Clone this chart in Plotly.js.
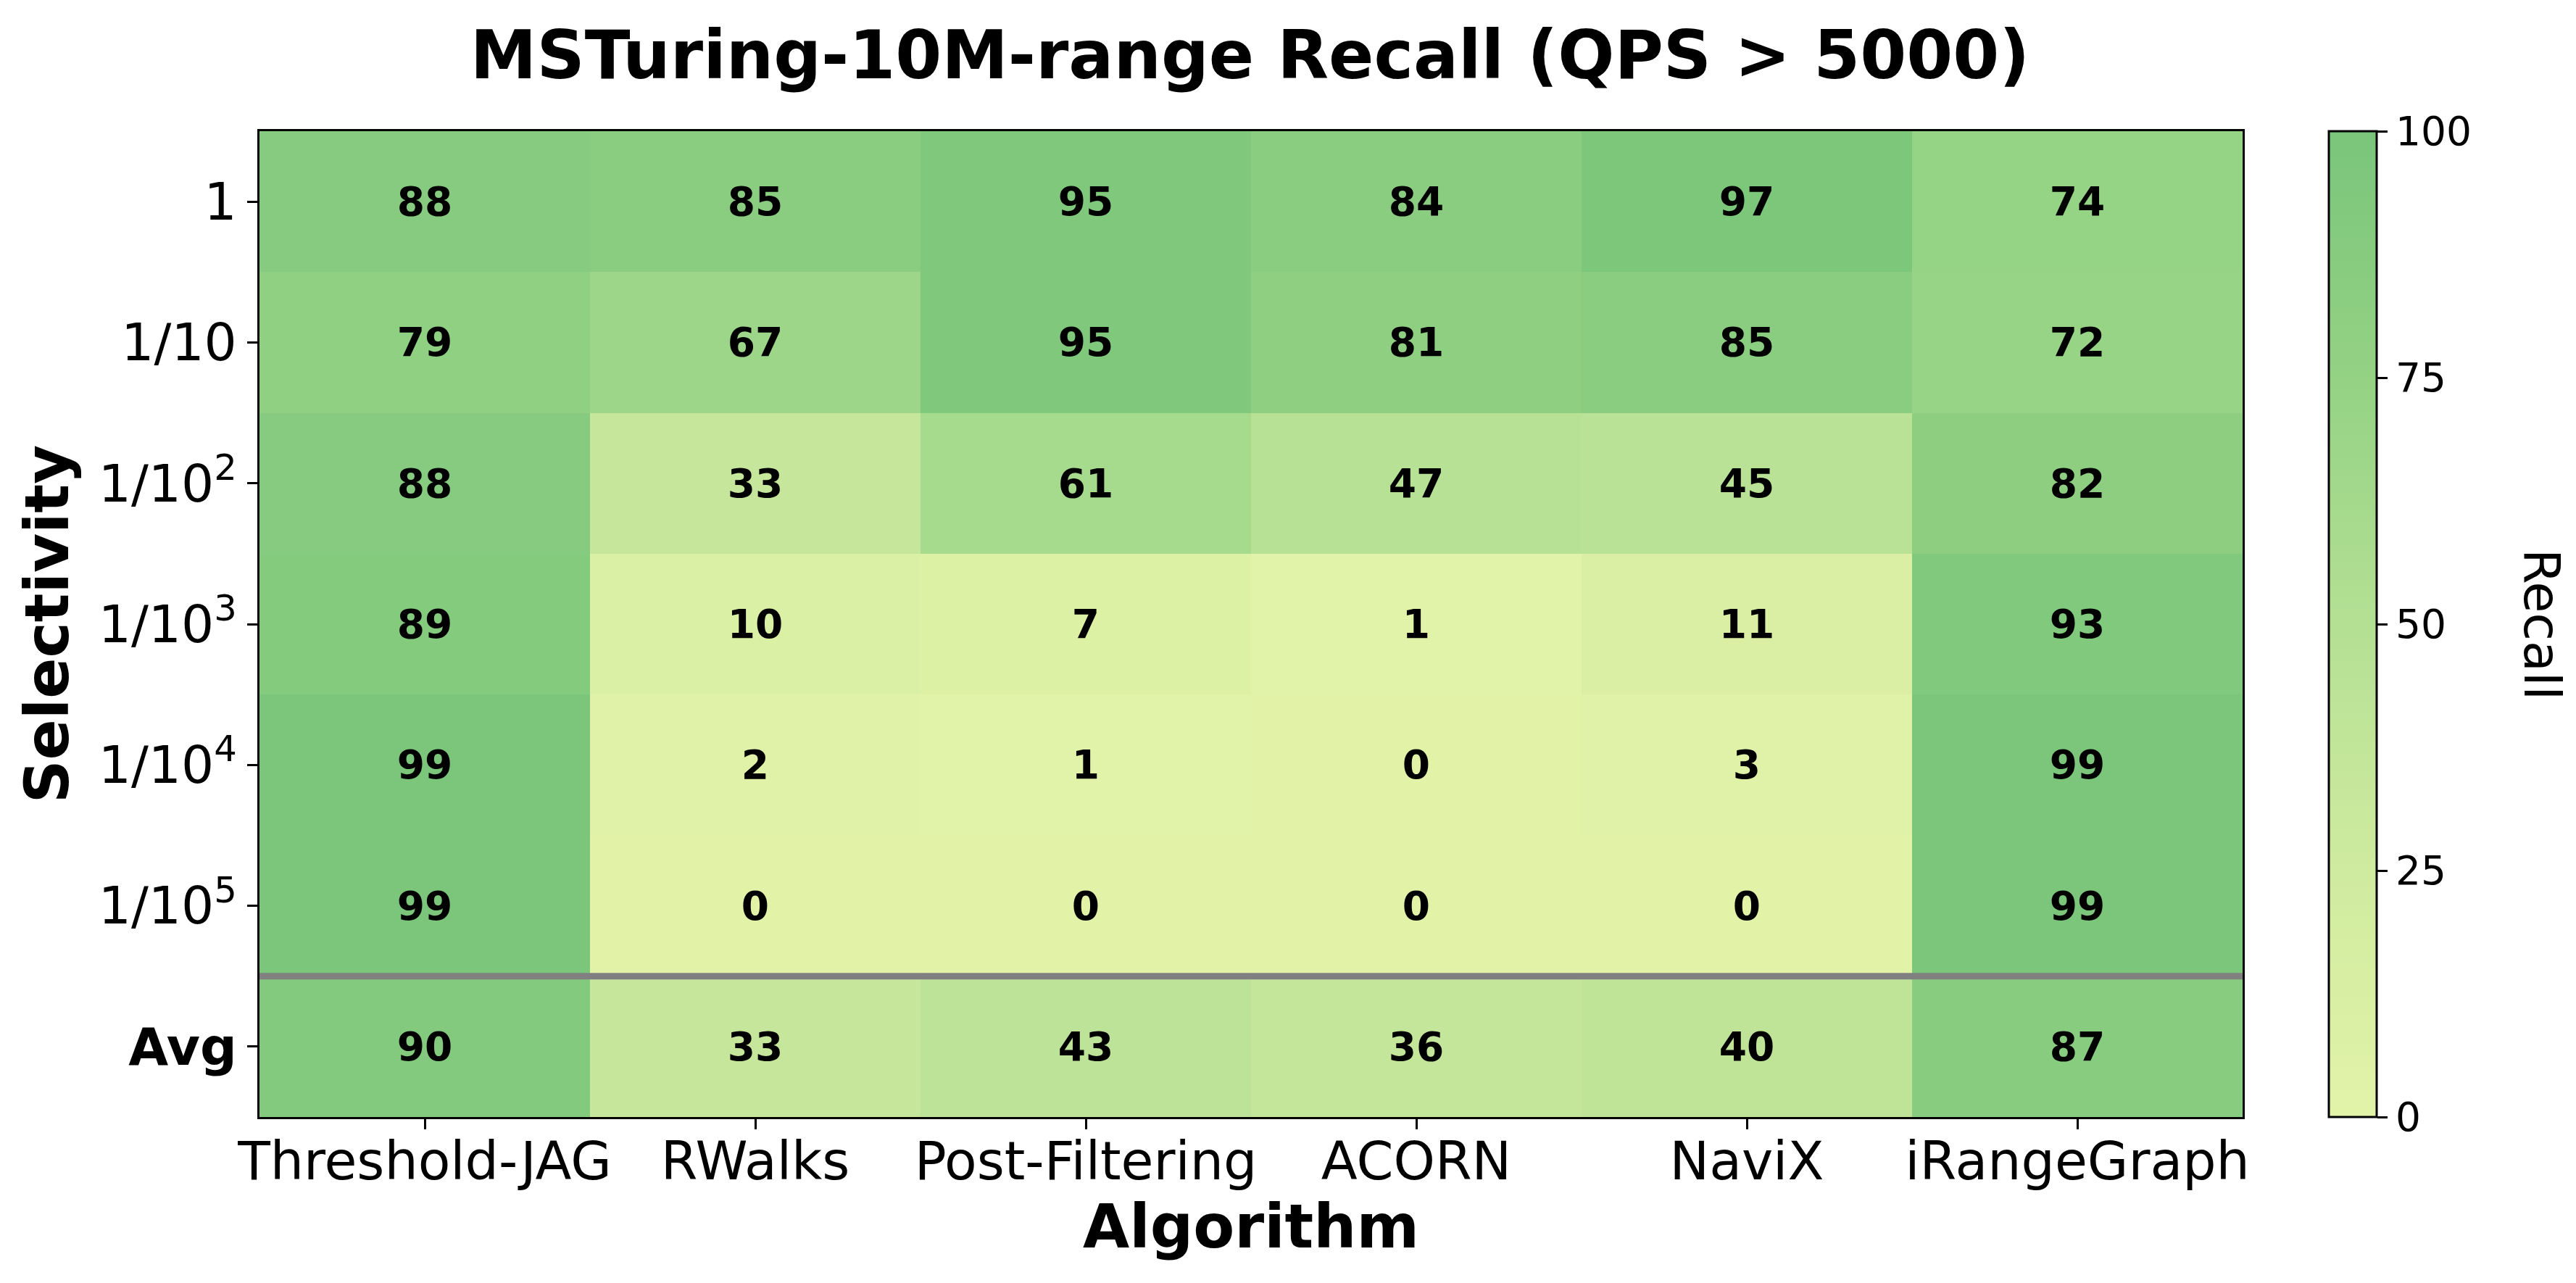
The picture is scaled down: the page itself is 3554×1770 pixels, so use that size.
<!DOCTYPE html>
<html>
<head>
<meta charset="utf-8">
<script src="https://cdn.plot.ly/plotly-3.0.1.min.js"></script>
<style>html,body{margin:0;padding:0;background:#fff;}</style>
</head>
<body>
<div id="chart" style="width:3554px;height:1770px;"></div>
<script>
const algorithms = ["Threshold-JAG", "RWalks", "Post-Filtering", "ACORN", "NaviX", "iRangeGraph"];
const selectivity = ["1", "1/10", "1/10^2", "1/10^3", "1/10^4", "1/10^5", "Avg"];
const selectivityLabels = ["1", "1/10", "1/10<sup>2</sup>", "1/10<sup>3</sup>", "1/10<sup>4</sup>", "1/10<sup>5</sup>", "<b>Avg</b>"];

const recall_1      = [88, 85, 95, 84, 97, 74];
const recall_1e1    = [79, 67, 95, 81, 85, 72];
const recall_1e2    = [88, 33, 61, 47, 45, 82];
const recall_1e3    = [89, 10, 7, 1, 11, 93];
const recall_1e4    = [99, 2, 1, 0, 3, 99];
const recall_1e5    = [99, 0, 0, 0, 0, 99];
const recall_avg    = [90, 33, 43, 36, 40, 87];

const colorbarTicks = [0, 25, 50, 75, 100];

const z = [recall_1, recall_1e1, recall_1e2, recall_1e3, recall_1e4, recall_1e5, recall_avg];

const FONT = "DejaVu Sans, Verdana, sans-serif";

const trace = {
  type: "heatmap",
  x: algorithms,
  y: selectivity,
  z: z,
  zmin: 0,
  zmax: 100,
  colorscale: [
    [0.0, "#e2f3a8"],
    [0.25, "#cfeb9f"],
    [0.5, "#b4e094"],
    [0.75, "#94d284"],
    [1.0, "#7ac57a"]
  ],
  texttemplate: "<b>%{z:.0f}</b>",
  textfont: {family: FONT, size: 55, color: "#000000"},
  hoverinfo: "skip",
  colorbar: {
    x: (3213 - 358) / 2736,
    xanchor: "left",
    xref: "paper",
    y: 0.5,
    yanchor: "middle",
    len: 1,
    lenmode: "fraction",
    thickness: 66,
    thicknessmode: "pixels",
    xpad: 0,
    ypad: 0,
    outlinewidth: 3,
    outlinecolor: "#000000",
    ticks: "outside",
    ticklen: 14,
    tickwidth: 3,
    tickcolor: "#000000",
    tickvals: colorbarTicks,
    ticktext: colorbarTicks.map(String),
    tickfont: {family: FONT, size: 55, color: "#000000"}
  }
};

const layout = {
  width: 3554,
  height: 1770,
  paper_bgcolor: "#ffffff",
  plot_bgcolor: "#ffffff",
  margin: {l: 358, r: 460, t: 181, b: 229, pad: 0},
  font: {family: FONT, color: "#000000"},
  title: {
    text: "<b>MSTuring-10M-range Recall (QPS > 5000)</b>",
    font: {family: FONT, size: 92, color: "#000000"},
    x: 0.4995,
    xref: "paper",
    xanchor: "center",
    y: 0.957,
    yref: "container",
    yanchor: "middle"
  },
  xaxis: {
    type: "category",
    tickfont: {family: FONT, size: 73, color: "#000000"},
    ticks: "outside",
    ticklen: 14,
    tickwidth: 3,
    tickcolor: "#000000",
    ticklabelstandoff: -19,
    showline: true,
    linecolor: "#000000",
    linewidth: 3,
    mirror: true,
    showgrid: false,
    zeroline: false,
    automargin: false,
    title: {
      text: "<b>Algorithm</b>",
      font: {family: FONT, size: 83, color: "#000000"},
      standoff: 13
    }
  },
  yaxis: {
    type: "category",
    autorange: "reversed",
    tickmode: "array",
    tickvals: selectivity,
    ticktext: selectivityLabels,
    tickfont: {family: FONT, size: 71, color: "#000000"},
    ticks: "outside",
    ticklen: 14,
    tickwidth: 3,
    tickcolor: "#000000",
    showline: true,
    linecolor: "#000000",
    linewidth: 3,
    mirror: true,
    showgrid: false,
    zeroline: false,
    automargin: false,
    title: {
      text: "<b>Selectivity</b>",
      font: {family: FONT, size: 83, color: "#000000"},
      standoff: 14
    }
  },
  shapes: [{
    type: "line",
    xref: "paper",
    x0: 0,
    x1: 1,
    yref: "y",
    y0: 5.5,
    y1: 5.5,
    line: {color: "#808080", width: 9}
  }],
  annotations: [{
    text: "Recall",
    xref: "paper",
    yref: "paper",
    x: (3507 - 358) / 2736,
    y: 0.5,
    xanchor: "center",
    yanchor: "middle",
    textangle: 90,
    showarrow: false,
    font: {family: FONT, size: 70, color: "#000000"}
  }]
};

Plotly.newPlot("chart", [trace], layout, {displayModeBar: false, staticPlot: true});
</script>
</body>
</html>
